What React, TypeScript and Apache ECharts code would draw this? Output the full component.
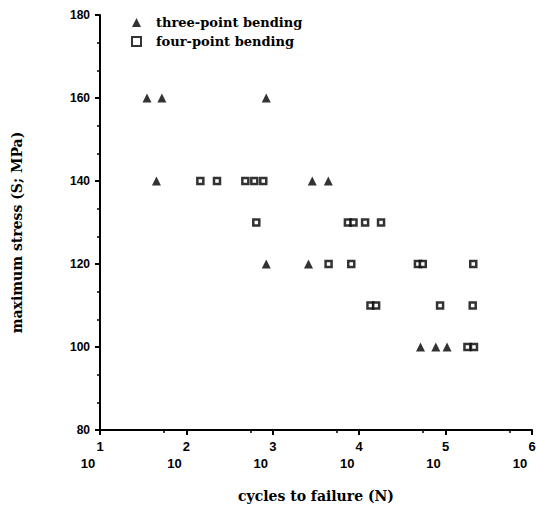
import React, { useEffect, useRef } from "react";
import * as echarts from "echarts";

// cycles to failure (N) and maximum stress (MPa)
const threePointCycles = [35, 52, 840, 45, 2860, 4390, 840, 2590, 51200, 77100, 104000];
const threePointStress = [160, 160, 160, 140, 140, 140, 120, 120, 100, 100, 100];

const fourPointCycles = [
  145, 226, 481, 611, 776,
  644, 7400, 8590, 11700, 17900,
  4420, 8090, 47800, 54400, 209000,
  13500, 15700, 86300, 206000,
  179000, 213000,
];
const fourPointStress = [
  140, 140, 140, 140, 140,
  130, 130, 130, 130, 130,
  120, 120, 120, 120, 120,
  110, 110, 110, 110,
  100, 100,
];

const seriesNames = ["three-point bending", "four-point bending"];
const yTicks = { min: 80, max: 180, interval: 20 };
const xRange = { min: 10, max: 1000000 };

const serif = "'DejaVu Serif', 'Liberation Serif', serif";
const sans = "'Liberation Sans', Arial, sans-serif";

export default function App() {
  const ref = useRef<HTMLDivElement>(null);
  useEffect(() => {
    if (!ref.current) return;
    const chart = echarts.init(ref.current, null, { renderer: "svg" });
    const three = threePointCycles.map((c, i) => [c, threePointStress[i]]);
    const four = fourPointCycles.map((c, i) => [c, fourPointStress[i]]);
    chart.setOption({
      animation: false,
      backgroundColor: "#ffffff",
      grid: { left: 100, right: 4, top: 15, bottom: 75, containLabel: false, outerBoundsMode: "none" },
      legend: {
        orient: "vertical",
        left: 126,
        top: 11,
        itemWidth: 9,
        itemHeight: 9,
        itemGap: 6,
        data: seriesNames,
        textStyle: {
          fontFamily: serif,
          fontWeight: "bold",
          fontSize: 13,
          color: "#000",
          padding: [0, 0, 0, 10],
        },
      },
      xAxis: {
        type: "log",
        logBase: 10,
        min: xRange.min,
        max: xRange.max,
        name: "cycles to failure (N)",
        nameLocation: "middle",
        nameGap: 59,
        nameTextStyle: { fontFamily: serif, fontWeight: "bold", fontSize: 14, color: "#000" },
        axisLine: { lineStyle: { color: "#000", width: 2 } },
        axisTick: { show: true, length: 5, lineStyle: { color: "#000", width: 2 } },
        minorTick: { show: true, splitNumber: 2, length: 3, lineStyle: { color: "#000", width: 1.5 } },
        splitLine: { show: false },
        axisLabel: {
          margin: 8,
          formatter: (v: number) => {
            const e = Math.round(Math.log10(v));
            return `{e|${e}}\n{b|10}`;
          },
          rich: {
            e: { fontFamily: sans, fontWeight: "bold", fontSize: 13, color: "#000", lineHeight: 17 },
            b: {
              fontFamily: sans,
              fontWeight: "bold",
              fontSize: 13,
              color: "#000",
              lineHeight: 17,
              padding: [0, 24, 0, 0],
            },
          },
        },
      },
      yAxis: {
        type: "value",
        min: yTicks.min,
        max: yTicks.max,
        interval: yTicks.interval,
        name: "maximum stress (S; MPa)",
        nameLocation: "middle",
        nameGap: 76,
        nameTextStyle: {
          fontFamily: serif,
          fontWeight: "bold",
          fontSize: 14,
          color: "#000",
          padding: [0, 20, 0, 0],
        },
        axisLine: { show: true, lineStyle: { color: "#000", width: 2 } },
        axisTick: { show: true, length: 5, lineStyle: { color: "#000", width: 2 } },
        minorTick: { show: true, splitNumber: 3, length: 3, lineStyle: { color: "#000", width: 1.5 } },
        splitLine: { show: false },
        axisLabel: { margin: 10, fontFamily: sans, fontWeight: "bold", fontSize: 12, color: "#000" },
      },
      series: [
        {
          name: seriesNames[0],
          type: "scatter",
          symbol: "triangle",
          symbolSize: 9,
          itemStyle: { color: "#000" },
          data: three,
        },
        {
          name: seriesNames[1],
          type: "scatter",
          symbol: "rect",
          symbolSize: 6,
          itemStyle: { color: "#fff", borderColor: "#000", borderWidth: 2.5 },
          data: four,
        },
      ],
    });
    return () => chart.dispose();
  }, []);
  return (
    <div
      ref={ref}
      style={{ position: "fixed", left: 0, top: 0, width: 536, height: 505, background: "#fff" }}
    />
  );
}
